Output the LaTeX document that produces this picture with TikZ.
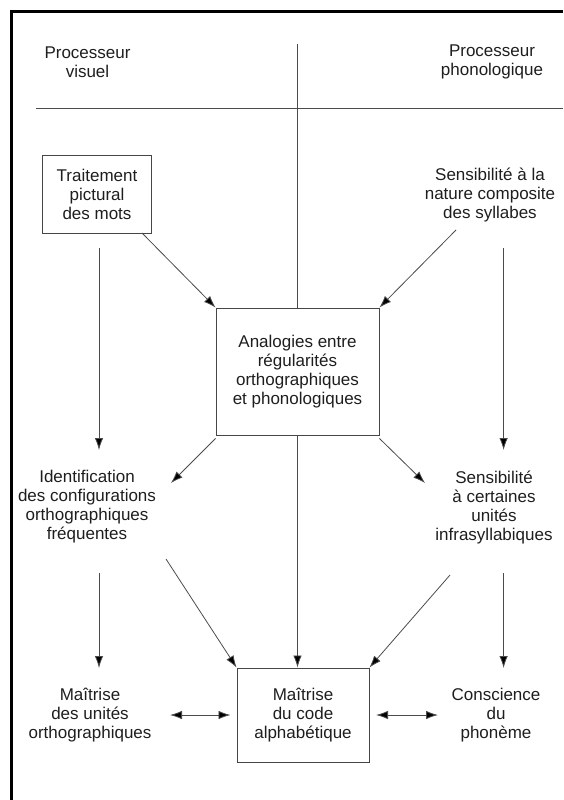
\documentclass[tikz,border=0pt]{standalone}
\usepackage{fontspec}
\setmainfont{Liberation Sans}
\usetikzlibrary{arrows.meta,calc}
\definecolor{linegray}{RGB}{75,75,75}
\definecolor{boxgray}{RGB}{70,70,70}
\definecolor{txt}{RGB}{30,30,30}
\begin{document}
\begin{tikzpicture}[x=1pt,y=1pt,
  lbl/.style={align=center,text=txt,font=\fontsize{17}{19}\selectfont,inner sep=0pt},
  boxnode/.style={lbl,draw=boxgray,line width=0.9pt},
  conn/.style={draw=linegray,line width=0.8pt},
  tip/.style={},
  arr/.style={conn,-{Latex[length=12pt,width=8.5pt,fill=black]}},
  darr/.style={conn,{Latex[length=12pt,width=8.5pt,fill=black]}-{Latex[length=12pt,width=8.5pt,fill=black]}}]
\useasboundingbox (0,0) rectangle (563,-800);
% frame
\draw[line width=3pt,black] (11,-800) -- (11,-11.7) -- (563,-11.7);
% header
\node[lbl] (pv) at (87.5,-62) {Processeur\\visuel};
\node[lbl] (pp) at (492,-62) {Processeur\\phonologique};
\coordinate (hl) at (36,-108);
\coordinate (hr) at (563,-108);
\draw[conn] (hl) -- (hr);
\coordinate (vtop) at (297.5,-44);
% nodes
\node[boxnode,minimum width=108.5pt,minimum height=78pt] (trait) at (97,-194) {Traitement\\pictural\\des mots};
\node[lbl] (sens1) at (490,-195) {Sensibilité à la\\nature composite\\des syllabes};
\node[boxnode,minimum width=163pt,minimum height=127pt] (ana) at (297.5,-371.5) {Analogies entre\\régularités\\orthographiques\\et phonologiques};
\node[lbl] (ident) at (87,-507) {Identification\\des configurations\\orthographiques\\fréquentes};
\node[lbl] (sens2) at (494,-507) {Sensibilité\\à certaines\\unités\\infrasyllabiques};
\node[lbl] (mait) at (90,-715) {Maîtrise\\des unités\\orthographiques};
\node[boxnode,minimum width=132pt,minimum height=94pt] (code) at (303,-715) {Maîtrise\\du code\\alphabétique};
\node[lbl] (consc) at (496,-715) {Conscience\\du\\phonème};
% connector end points
\coordinate (t1) at (142,-233);
\coordinate (s1) at (456,-230);
\coordinate (l1a) at (99,-248);
\coordinate (l1b) at (99,-450);
\coordinate (r1a) at (503.6,-248);
\coordinate (r1b) at (503.6,-450);
\coordinate (id1) at (171,-483);
\coordinate (se1) at (425,-483);
\coordinate (l2a) at (99,-573);
\coordinate (l2b) at (99,-668);
\coordinate (r2a) at (503.6,-573);
\coordinate (r2b) at (503.6,-668);
\coordinate (id2) at (166,-559);
\coordinate (se2) at (450,-575);
\coordinate (dl1) at (170,-715);
\coordinate (dl2) at (230.5,-715);
\coordinate (dr1) at (376,-715);
\coordinate (dr2) at (438,-715);
% connectors
\draw[conn] (vtop) -- (ana.north);
\draw[arr] (t1) -- (ana.north west);
\draw[arr] (s1) -- (ana.north east);
\draw[arr] (l1a) -- (l1b);
\draw[arr] (r1a) -- (r1b);
\draw[arr] (ana.south west) ++(0,-3) -- (id1);
\draw[arr] (ana.south east) ++(0,-3) -- (se1);
\draw[arr] (ana.south) -- (ana.south |- code.north);
\draw[arr] (l2a) -- (l2b);
\draw[arr] (r2a) -- (r2b);
\draw[arr] (id2) -- (code.north west);
\draw[arr] (se2) -- (code.north east);
\draw[darr] (dl1) -- (dl2);
\draw[darr] (dr1) -- (dr2);
\end{tikzpicture}
\end{document}
